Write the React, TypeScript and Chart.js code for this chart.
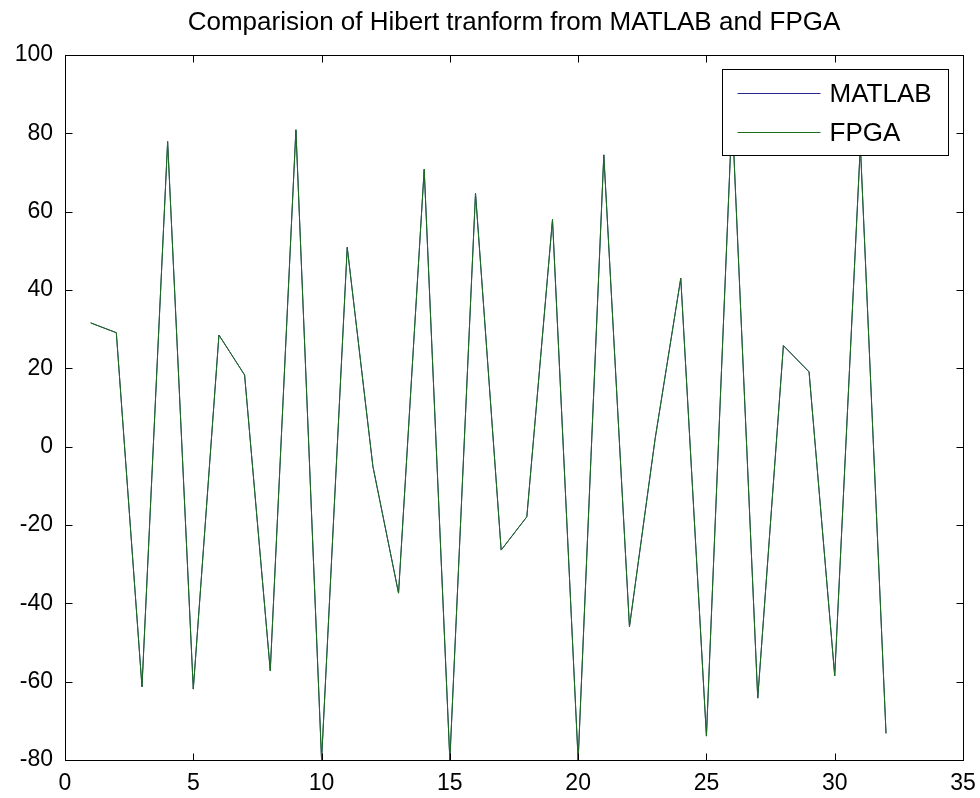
import React, { useEffect, useRef } from "react";
import { Chart, registerables } from "chart.js";

Chart.register(...registerables);

const titleText = "Comparision of Hibert tranform from MATLAB and FPGA";
const xValues = [1, 2, 3, 4, 5, 6, 7, 8, 9, 10, 11, 12, 13, 14, 15, 16, 17, 18, 19, 20, 21, 22, 23, 24, 25, 26, 27, 28, 29, 30, 31, 32];
const matlabValues = [31.6, 29.1, -61.3, 77.9, -61.9, 28.5, 18.3, -57.2, 80.9, -80, 50.9, -5, -37.4, 70.8, -80, 64.7, -26.4, -17.9, 58, -80, 74.5, -46, 2, 43, -73.9, 85, -64.2, 25.8, 19.1, -58.5, 77, -73.2];
const fpgaValues = [31.6, 29.1, -61.3, 77.9, -61.9, 28.5, 18.3, -57.2, 80.9, -80, 50.9, -5, -37.4, 70.8, -80, 64.7, -26.4, -17.9, 58, -80, 74.5, -46, 2, 43, -73.9, 85, -64.2, 25.8, 19.1, -58.5, 77, -73.2];
const seriesLabels = ["MATLAB", "FPGA"];
const seriesColors = ["#26268c", "#1a6e1a"];

const FONT = "'Liberation Sans', Arial, sans-serif";

const framePlugin = {
  id: "matlabFrame",
  afterDraw(chart: any) {
    const { ctx, chartArea: a, scales } = chart;
    const xs = scales.x;
    const ys = scales.y;
    ctx.save();
    ctx.strokeStyle = "#000";
    ctx.lineWidth = 1;
    const L = Math.round(a.left) + 0.5;
    const R = Math.round(a.right) + 0.5;
    const T = Math.round(a.top) + 0.5;
    const B = Math.round(a.bottom) + 0.5;
    ctx.strokeRect(L, T, R - L, B - T);
    const tl = 7;
    ctx.beginPath();
    xs.ticks.forEach((t: any) => {
      const px = Math.round(xs.getPixelForValue(t.value)) + 0.5;
      ctx.moveTo(px, B);
      ctx.lineTo(px, B - tl);
      ctx.moveTo(px, T);
      ctx.lineTo(px, T + tl);
    });
    ys.ticks.forEach((t: any) => {
      const py = Math.round(ys.getPixelForValue(t.value)) + 0.5;
      ctx.moveTo(L, py);
      ctx.lineTo(L + tl, py);
      ctx.moveTo(R, py);
      ctx.lineTo(R - tl, py);
    });
    ctx.stroke();

    // legend box
    const bw = 226;
    const bh = 86;
    const bx = Math.round(a.right - 15 - bw) + 0.5;
    const by = Math.round(a.top + 14) + 0.5;
    ctx.fillStyle = "#fff";
    ctx.fillRect(bx, by, bw, bh);
    ctx.strokeStyle = "#000";
    ctx.strokeRect(bx, by, bw, bh);
    ctx.font = `26px ${FONT}`;
    ctx.textBaseline = "middle";
    ctx.textAlign = "left";
    chart.data.datasets.forEach((ds: any, i: number) => {
      const rowY = Math.round(by + 23 + i * 39) + 0.5;
      ctx.strokeStyle = ds.borderColor;
      ctx.lineWidth = 1;
      ctx.beginPath();
      ctx.moveTo(bx + 15, rowY);
      ctx.lineTo(bx + 98, rowY);
      ctx.stroke();
      ctx.fillStyle = "#000";
      ctx.fillText(ds.label, bx + 107, rowY + 1);
    });
    ctx.restore();
  },
};

export default function App() {
  const ref = useRef<HTMLCanvasElement | null>(null);
  useEffect(() => {
    document.body.style.margin = "0";
    const mk = (vals: number[]) => xValues.map((x, i) => ({ x, y: vals[i] }));
    const chart = new Chart(ref.current as HTMLCanvasElement, {
      type: "line",
      data: {
        datasets: [
          { label: seriesLabels[0], data: mk(matlabValues), borderColor: seriesColors[0], borderWidth: 1, pointRadius: 0, fill: false, tension: 0, order: 1 },
          { label: seriesLabels[1], data: mk(fpgaValues), borderColor: seriesColors[1], borderWidth: 1, pointRadius: 0, fill: false, tension: 0, order: 0 },
        ],
      },
      options: {
        animation: false,
        responsive: true,
        maintainAspectRatio: false,
        layout: { padding: { left: 0, right: 17, top: 0, bottom: 0 } },
        plugins: {
          legend: { display: false },
          tooltip: { enabled: false },
          title: {
            display: true,
            text: titleText,
            fullSize: false,
            color: "#000",
            font: { family: FONT, size: 26, weight: "normal" as any, lineHeight: 1.2 },
            padding: { top: 7, bottom: 16.8 },
          },
        },
        scales: {
          x: {
            type: "linear",
            min: 0,
            max: 35,
            grid: { display: false },
            border: { display: false },
            ticks: { stepSize: 5, color: "#000", font: { family: FONT, size: 23 }, padding: 2, maxRotation: 0 },
            afterFit: (s: any) => { s.height = 38; },
          },
          y: {
            type: "linear",
            min: -80,
            max: 100,
            grid: { display: false },
            border: { display: false },
            ticks: { stepSize: 20, color: "#000", font: { family: FONT, size: 23 }, padding: 4 },
            afterFit: (s: any) => { s.width = 65; },
          },
        },
      },
      plugins: [framePlugin],
    });
    return () => chart.destroy();
  }, []);
  return (
    <div style={{ position: "absolute", left: 0, top: 0, width: 980, height: 798, background: "#fff" }}>
      <canvas ref={ref} />
    </div>
  );
}
